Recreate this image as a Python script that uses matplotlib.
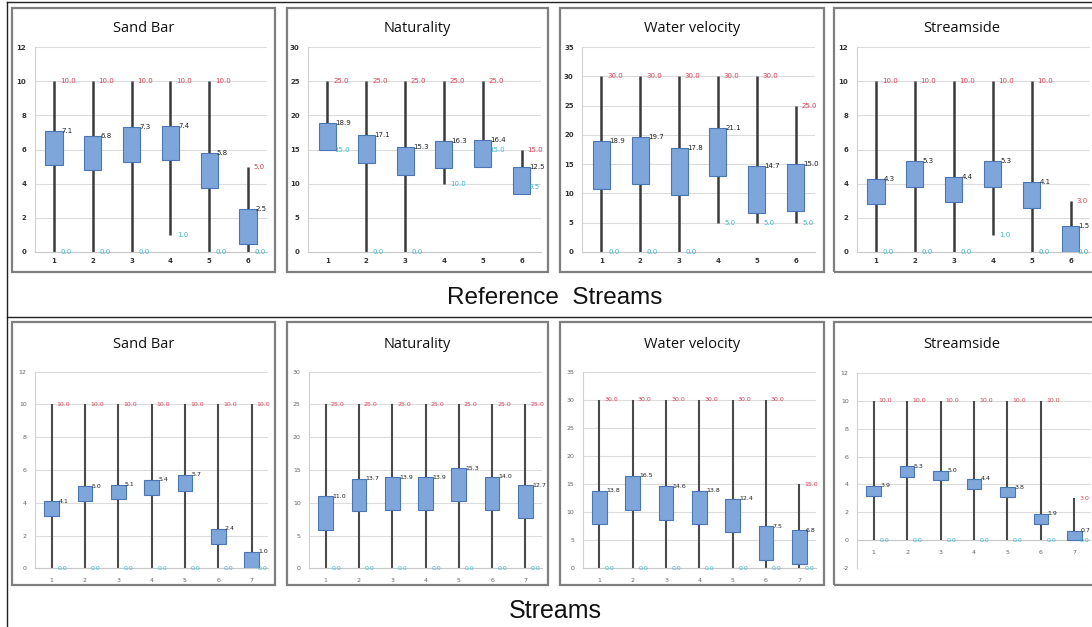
import matplotlib
matplotlib.use("Agg")
import matplotlib.pyplot as plt
from matplotlib.patches import Rectangle
from matplotlib.lines import Line2D

plt.rcParams["axes.unicode_minus"] = False

W, H = 1092, 627

titles = ["Sand Bar", "Naturality", "Water velocity", "Streamside"]

# Reference streams (6 sites)
ref_max = [
    [10, 10, 10, 10, 10, 5],
    [25, 25, 25, 25, 25, 15],
    [30, 30, 30, 30, 30, 25],
    [10, 10, 10, 10, 10, 3],
]
ref_min = [
    [0, 0, 0, 1, 0, 0],
    [15, 0, 0, 10, 15, 9.5],
    [0, 0, 0, 5, 5, 5],
    [0, 0, 0, 1, 0, 0],
]
ref_top = [
    [7.1, 6.8, 7.3, 7.4, 5.8, 2.5],
    [18.9, 17.1, 15.3, 16.3, 16.4, 12.5],
    [18.9, 19.7, 17.8, 21.1, 14.7, 15.0],
    [4.3, 5.3, 4.4, 5.3, 4.1, 1.5],
]
ref_bot = [
    [5.1, 4.8, 5.25, 5.4, 3.75, 0.45],
    [15.0, 13.0, 11.3, 12.3, 12.4, 8.5],
    [10.8, 11.6, 9.8, 13.0, 6.7, 7.0],
    [2.8, 3.8, 2.9, 3.8, 2.6, 0.0],
]

# Streams (7 sites)
str_max = [
    [10, 10, 10, 10, 10, 10, 10],
    [25, 25, 25, 25, 25, 25, 25],
    [30, 30, 30, 30, 30, 30, 15],
    [10, 10, 10, 10, 10, 10, 3],
]
str_min = [
    [0, 0, 0, 0, 0, 0, 0],
    [0, 0, 0, 0, 0, 0, 0],
    [0, 0, 0, 0, 0, 0, 0],
    [0, 0, 0, 0, 0, 0, 0],
]
str_top = [
    [4.1, 5.0, 5.1, 5.4, 5.7, 2.4, 1.0],
    [11.0, 13.7, 13.9, 13.9, 15.3, 14.0, 12.7],
    [13.8, 16.5, 14.6, 13.8, 12.4, 7.5, 6.8],
    [3.9, 5.3, 5.0, 4.4, 3.8, 1.9, 0.7],
]
str_bot = [
    [3.2, 4.1, 4.2, 4.5, 4.7, 1.5, 0.0],
    [5.9, 8.7, 8.9, 8.9, 10.3, 8.9, 7.7],
    [7.8, 10.4, 8.6, 7.8, 6.4, 1.5, 0.8],
    [3.2, 4.5, 4.3, 3.7, 3.1, 1.2, 0.0],
]

ref_ylim = [(0, 12), (0, 30), (0, 35), (0, 12)]
str_ylim = [(0, 12), (0, 30), (0, 35), (-2, 12)]
ref_step = [2, 5, 5, 2]
str_step = [2, 5, 5, 2]

fig = plt.figure(figsize=(W / 100, H / 100), dpi=100)
fig.patch.set_facecolor("white")


def fig_line(x0, y0, x1, y1, color="#222222", lw=1.0):
    fig.add_artist(Line2D([x0 / W, x1 / W], [1 - y0 / H, 1 - y1 / H],
                          transform=fig.transFigure, color=color, lw=lw))


def panel_box(x0, y0, x1, y1):
    fig.add_artist(Rectangle((x0 / W, 1 - y1 / H), (x1 - x0) / W, (y1 - y0) / H,
                             transform=fig.transFigure, fill=False,
                             edgecolor="#7f7f7f", lw=1.6))


def add_ax(x0, x1, ytop, ybot):
    return fig.add_axes([x0 / W, 1 - ybot / H, (x1 - x0) / W, (ybot - ytop) / H])


def draw_panel(ax, mx, mn, top, bot, ylim, step, row):
    n = len(mx)
    xs = list(range(1, n + 1))
    lw = 1.8 if row == 0 else 1.5
    fs = 5.0 if row == 0 else 4.5
    wcol = "#3a3a3a" if row == 0 else "#4a4a4a"
    ax.set_xlim(0.5, n + 0.5)
    ax.set_ylim(*ylim)
    ax.set_yticks(range(ylim[0], ylim[1] + 1, step))
    ax.grid(axis="y", color="#dcdcdc", lw=0.8)
    ax.set_axisbelow(True)
    ax.vlines(xs, mn, mx, color=wcol, lw=lw, zorder=2)
    heights = [t - b for t, b in zip(top, bot)]
    ax.bar(xs, heights, bottom=bot, width=0.44, color="#7fa6db",
           edgecolor="#4a76b4", lw=0.8, zorder=3)
    for x, a, b, t in zip(xs, mx, mn, top):
        ax.text(x + 0.15, a, f"{a:.1f}", color="#d9435a", fontsize=fs,
                ha="left", va="center", zorder=4)
        ax.text(x + 0.17, b, f"{b:.1f}", color="#3fb7c9", fontsize=fs,
                ha="left", va="center", zorder=4)
        ax.text(x + 0.2, t, f"{t:.1f}", color="#222222", fontsize=fs,
                ha="left", va="center", zorder=4)
    for s in ["top", "right"]:
        ax.spines[s].set_visible(False)
    ax.spines["left"].set_color("#d0d0d0")
    ax.spines["bottom"].set_color("#c8c8c8")
    tick_color = "#333333" if row == 0 else "#666666"
    weight = "bold" if row == 0 else "normal"
    ax.tick_params(axis="y", length=0, pad=6, labelsize=fs, labelcolor=tick_color)
    for lab in ax.get_yticklabels():
        lab.set_fontweight(weight)
    if ylim[0] < 0:
        ax.set_xticks([])
        ax.spines["bottom"].set_visible(False)
        ax.axhline(0, color="#c8c8c8", lw=0.8, zorder=1)
        for x in xs:
            ax.text(x, -0.9, str(x), ha="center", va="center", fontsize=fs,
                    color=tick_color)
    else:
        ax.set_xticks(xs)
        ax.set_xticklabels([str(x) for x in xs], fontweight=weight)
        ax.tick_params(axis="x", length=0, pad=4 if row == 0 else 7,
                       labelsize=fs, labelcolor=tick_color)


# table lines
fig_line(7, 2, W, 2)
fig_line(7, 2, 7, H)
fig_line(7, 317, W, 317)

# panel frames (pixels)
top_frames = [(12, 8, 275, 272), (287, 8, 548, 272), (560, 8, 824, 272), (834, 8, 1098, 272)]
bot_frames = [(12, 322, 275, 585), (287, 322, 548, 585), (560, 322, 824, 585), (834, 322, 1098, 585)]
top_axes = [(34.6, 267.4), (308, 541), (582, 815), (856.5, 1090)]
bot_axes = [(35, 268.3), (309, 542), (582.7, 816), (857, 1091)]

for i in range(4):
    panel_box(*top_frames[i])
    ax = add_ax(top_axes[i][0], top_axes[i][1], 47, 252)
    draw_panel(ax, ref_max[i], ref_min[i], ref_top[i], ref_bot[i],
               ref_ylim[i], ref_step[i], 0)
    cx = (top_frames[i][0] + top_frames[i][2]) / 2 if i < 3 else 962
    fig.text(cx / W, 1 - 29 / H, titles[i], ha="center", va="center",
             fontsize=10.5, family="Open Sans", color="#111111")

for i in range(4):
    panel_box(*bot_frames[i])
    ytop = 371.7 if i < 3 else 372.7
    ax = add_ax(bot_axes[i][0], bot_axes[i][1], ytop, 568.3)
    draw_panel(ax, str_max[i], str_min[i], str_top[i], str_bot[i],
               str_ylim[i], str_step[i], 1)
    cx = (bot_frames[i][0] + bot_frames[i][2]) / 2 if i < 3 else 962
    fig.text(cx / W, 1 - 345 / H, titles[i], ha="center", va="center",
             fontsize=10.5, family="Open Sans", color="#111111")

fig.text(555 / W, 1 - 298 / H, "Reference  Streams", ha="center", va="center",
         fontsize=17.5, family="Liberation Sans", color="#111111")
fig.text(555 / W, 1 - 611 / H, "Streams", ha="center", va="center",
         fontsize=18, family="Liberation Sans", color="#111111")

fig.savefig("out.png", dpi=100)
